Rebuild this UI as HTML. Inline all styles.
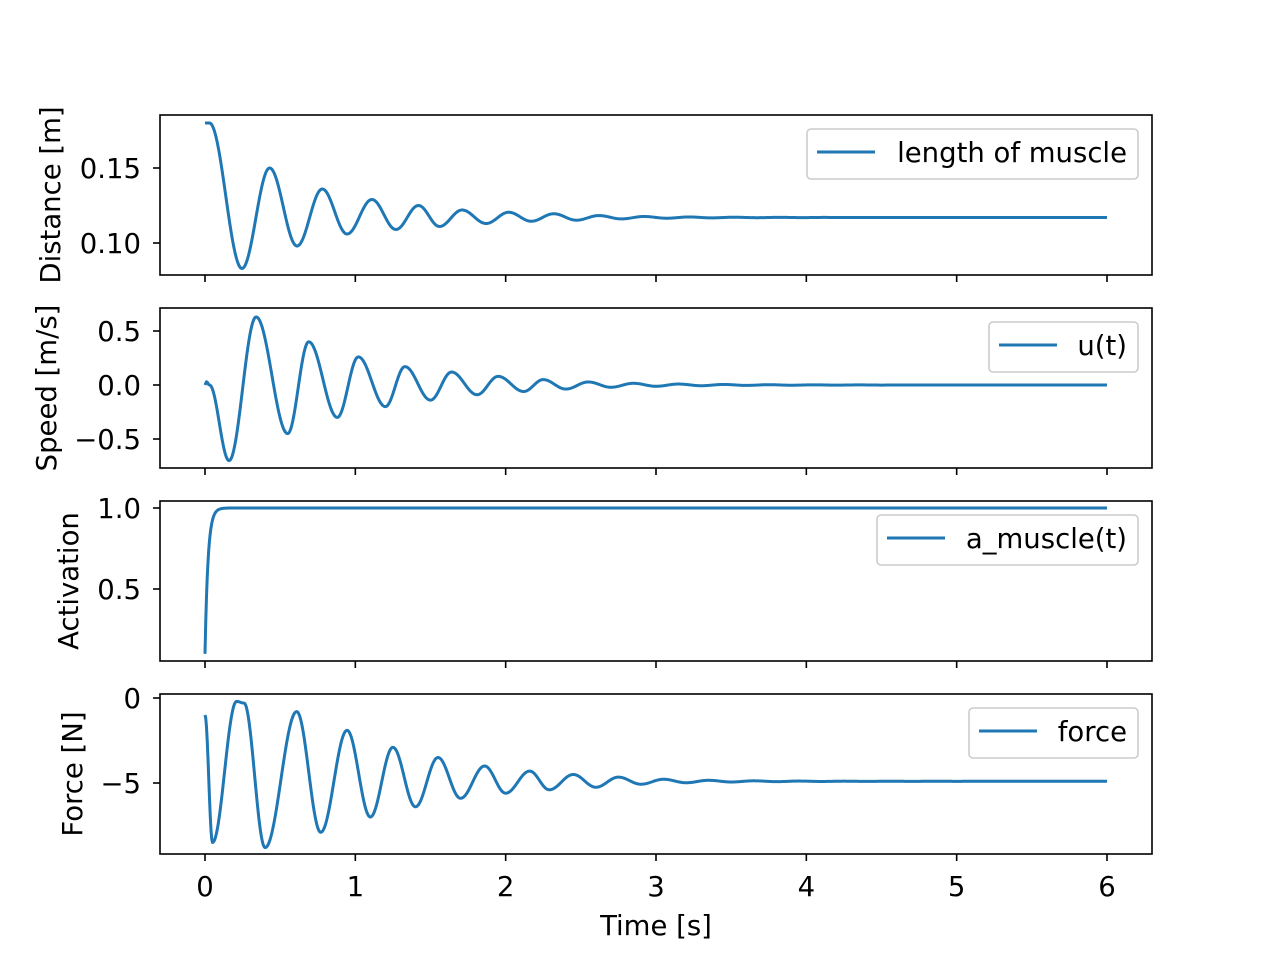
<!DOCTYPE html>
<html><head><meta charset="utf-8"><style>
html,body{margin:0;padding:0;background:#fff;}
svg{display:block;font-family:"DejaVu Sans","Liberation Sans",sans-serif;}
</style></head><body>
<svg id="s" width="1280" height="960" xmlns="http://www.w3.org/2000/svg">
<rect width="1280" height="960" fill="#fff"/>
<g id="g"></g>
</svg>
<script>
const NS="http://www.w3.org/2000/svg";
const g=document.getElementById('g');
const FS=27.5;
function el(t,a,txt){const e=document.createElementNS(NS,t);for(const k in a)e.setAttribute(k,a[k]);if(txt!==undefined)e.textContent=txt;g.appendChild(e);return e;}
const X0=205,XS=(1107-205)/6;
const tx=t=>X0+t*XS;
function build(ext,eq,period,decay,tEnd){
  const e=ext.slice();
  while(e[e.length-1][0]<tEnd+0.5){
    const [t,v]=e[e.length-1];
    e.push([t+period/2, eq-(v-eq)*decay]);
  }
  return function(t){
    if(t<=e[0][0])return e[0][1];
    for(let i=0;i<e.length-1;i++){
      if(t<=e[i+1][0]){const a=e[i],b=e[i+1];const f=(t-a[0])/(b[0]-a[0]);const s=(1-Math.cos(Math.PI*f))/2;return a[1]+(b[1]-a[1])*s;}
    }
    return eq;
  };
}
const panels=[
 {top:115,y:v=>168+(0.15-v)*1500,ticks:[[0.10,'0.10'],[0.15,'0.15']],label:'Distance [m]',lx:50,
  f:build([[0,0.18],[0.03,0.18],[0.246,0.083],[0.43,0.150],[0.612,0.098],[0.78,0.136],[0.945,0.106],[1.11,0.129],[1.27,0.109],[1.42,0.125],[1.56,0.111],[1.71,0.122],[1.87,0.113],[2.02,0.1205],[2.17,0.1145],[2.32,0.1195]],0.117,0.30,0.72,6),
  leg:[807,129,331,50,'length of muscle']},
 {top:308,y:v=>385-v*108,ticks:[[-0.5,'\u22120.5'],[0,'0.0'],[0.5,'0.5']],label:'Speed [m/s]',lx:46,
  f:build([[0,0],[0.01,0.03],[0.03,0.0],[0.16,-0.70],[0.34,0.63],[0.55,-0.45],[0.69,0.40],[0.88,-0.30],[1.02,0.26],[1.2,-0.20],[1.33,0.17],[1.5,-0.14],[1.64,0.12],[1.81,-0.09],[1.95,0.08],[2.12,-0.06],[2.25,0.05]],0,0.30,0.75,6),
  leg:[989,322,149,50,'u(t)']},
 {top:501,y:v=>508-(v-1)*162,ticks:[[0.5,'0.5'],[1.0,'1.0']],label:'Activation',lx:68,
  f:t=>1-0.9*Math.exp(-t/0.02),leg:[877,515,261,50,'a_muscle(t)']},
 {top:694,y:v=>698-v*17,ticks:[[-5,'\u22125'],[0,'0']],label:'Force [N]',lx:72,
  f:build([[0,-1],[0.05,-8.5],[0.21,-0.2],[0.26,-0.3],[0.40,-8.8],[0.61,-0.8],[0.77,-7.9],[0.945,-1.9],[1.1,-7.0],[1.25,-2.9],[1.4,-6.4],[1.55,-3.5],[1.7,-5.9],[1.86,-4.0],[2.0,-5.6],[2.16,-4.3],[2.29,-5.4],[2.45,-4.5],[2.6,-5.25]],-4.9,0.30,0.7,6),
  leg:[969,708,169,50,'force']}
];
panels.forEach((p,i)=>{
  const T=p.top,B=T+160;
  let d='';
  for(let k=0;k<=1200;k++){const t=k/200;d+=(k?'L':'M')+tx(t).toFixed(2)+','+p.y(p.f(t)).toFixed(2);}
  const cp=el('clipPath',{id:'c'+i});const r=document.createElementNS(NS,'rect');r.setAttribute('x',160);r.setAttribute('y',T);r.setAttribute('width',992);r.setAttribute('height',160);cp.appendChild(r);
  el('path',{d:d,fill:'none',stroke:'#1f77b4','stroke-width':3,'clip-path':'url(#c'+i+')','stroke-linejoin':'round'});
  el('rect',{x:160,y:T,width:992,height:160,fill:'none',stroke:'#000','stroke-width':1.6});
  for(let k=0;k<=6;k++){el('line',{x1:tx(k),x2:tx(k),y1:B,y2:B+7,stroke:'#000','stroke-width':1.6});
    if(i==3)el('text',{x:tx(k),y:B+42,'text-anchor':'middle','font-size':FS},String(k));}
  p.ticks.forEach(([v,s])=>{const y=p.y(v);el('line',{x1:153,x2:160,y1:y,y2:y,stroke:'#000','stroke-width':1.6});
    el('text',{x:141,y:y+10,'text-anchor':'end','font-size':FS},s);});
  el('text',{x:0,y:0,'font-size':FS,'text-anchor':'middle',transform:`translate(${p.lx+10},${T+80}) rotate(-90)`},p.label);
  const [lx,ly,lw,lh,lt]=p.leg;
  el('rect',{x:lx,y:ly,width:lw,height:lh,rx:4,fill:'#fff','fill-opacity':0.8,stroke:'#ccc','stroke-width':1.6});
  el('line',{x1:lx+10,x2:lx+68,y1:ly+23,y2:ly+23,stroke:'#1f77b4','stroke-width':3});
  el('text',{x:lx+lw-11,y:ly+33,'text-anchor':'end','font-size':FS},lt);
});
el('text',{x:656,y:935,'text-anchor':'middle','font-size':FS},'Time [s]');
</script>
</body></html>
